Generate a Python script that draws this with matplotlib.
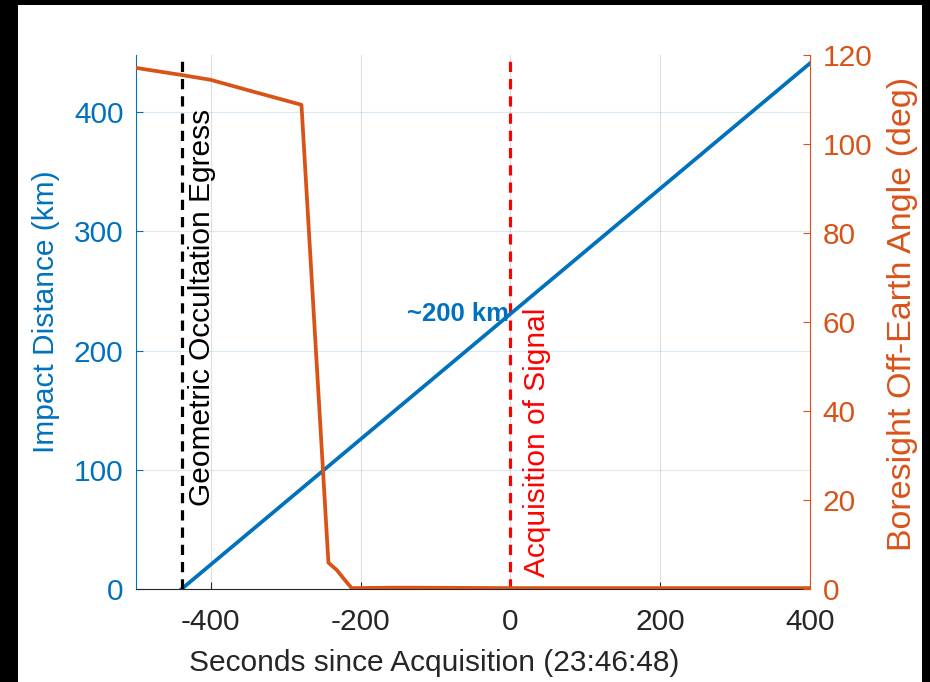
import numpy as np
import matplotlib.pyplot as plt
from matplotlib.patches import Rectangle

plt.rcParams['font.family'] = ['Liberation Sans', 'DejaVu Sans']
plt.rcParams['axes.unicode_minus'] = False

# impact distance (left axis), straight line
t_dist = [-439, 400]
dist_km = [0, 441]

# boresight off-earth angle (right axis)
t_angle = [-500, -439, -400, -340, -279, -243, -232, -221, -212, -150, 0, 200, 400]
angle_deg = [117.1, 115.5, 114.4, 111.6, 108.8, 5.9, 4.3, 2.0, 0.2, 0.3, 0.2, 0.2, 0.2]

t_egress = -439
t_aos = 0
xticks = [-400, -200, 0, 200, 400]
left_ticks = [0, 100, 200, 300, 400]
right_ticks = [0, 20, 40, 60, 80, 100, 120]

blue = '#0072BD'
orange = '#D95319'
dark = '#262626'
fs = 21.5

fig = plt.figure(figsize=(9.3, 6.82), dpi=100, facecolor='black')
fig.patches.append(Rectangle((18 / 930, 0), 904 / 930, 1 - 5 / 682,
                             transform=fig.transFigure, facecolor='white',
                             edgecolor='none', zorder=-10))

ax = fig.add_axes([0.1462, 0.1364, 0.7247, 0.7830])
ax.set_facecolor('white')
ax2 = ax.twinx()

ax.grid(True, axis='x', color=dark, alpha=0.15, lw=0.8)
ax.grid(True, axis='y', color=blue, alpha=0.15, lw=0.8)
ax.set_axisbelow(True)

ax.axvline(t_aos, color='red', lw=2.3, dashes=(3.2, 2.2), zorder=2)
ax.plot(t_dist, dist_km, color=blue, lw=2.7, zorder=3)
ax.text(-2, 231, '~200 km', color=blue, fontsize=18.5, fontweight='bold',
        ha='right', va='center')

ax2.plot(t_angle, angle_deg, color=orange, lw=2.7)
ax2.axvline(t_egress, color='black', lw=2.3, dashes=(3.2, 2.2))
ax2.text(-412, 63.3, 'Geometric Occultation Egress', rotation=90,
         fontsize=fs, color='black', ha='center', va='center')
ax2.text(35, 32.9, 'Acquisition of Signal', rotation=90,
         fontsize=fs, color='red', ha='center', va='center')

ax.set_xlim(-500, 400)
ax.set_ylim(0, 448)
ax2.set_ylim(0, 120)
ax.set_xticks(xticks)
ax.set_yticks(left_ticks)
ax2.set_yticks(right_ticks)

for a in (ax, ax2):
    a.spines['top'].set_visible(False)
ax.spines['left'].set_color(blue)
ax.spines['right'].set_visible(False)
ax.spines['bottom'].set_color(dark)
ax2.spines['left'].set_visible(False)
ax2.spines['bottom'].set_visible(False)
ax2.spines['right'].set_color(orange)

ax.tick_params(axis='x', direction='in', length=5, width=0.8, colors=dark,
               labelsize=fs, pad=14)
ax.tick_params(axis='y', direction='in', length=5, width=0.8, colors=blue,
               labelsize=fs, pad=9)
ax2.tick_params(axis='y', direction='in', length=5, width=0.8, colors=orange,
                labelsize=fs, pad=9)

ax.set_xlabel('Seconds since Acquisition (23:46:48)', fontsize=fs, color=dark,
              va='center')
ax.xaxis.set_label_coords(0.442, -0.1386)
ax.set_ylabel('Impact Distance (km)', fontsize=fs, color=blue, va='center')
ax.yaxis.set_label_coords(-0.1335, 0.52)
ax2.set_ylabel('Boresight Off-Earth Angle (deg)', fontsize=24.5, color=orange,
               va='center', rotation=90)
ax2.yaxis.set_label_coords(1.138, 0.515)

fig.savefig('out.png', dpi=100, facecolor=fig.get_facecolor())
